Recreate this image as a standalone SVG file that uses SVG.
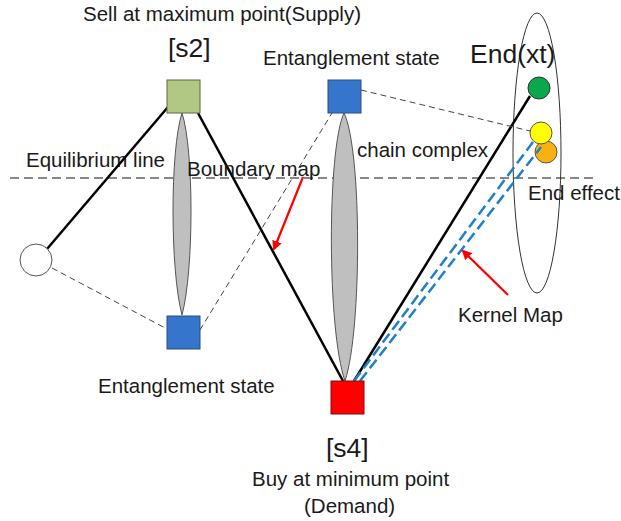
<svg xmlns="http://www.w3.org/2000/svg" width="621" height="521" viewBox="0 0 621 521">
<defs>
<style>
text{font-family:"Liberation Sans",Arial,sans-serif;font-size:20.5px;fill:#1a1a1a}
.big{font-size:26.5px}
.solid{stroke:#000;stroke-width:2.5;fill:none}
.thin{stroke:#444;stroke-width:1;stroke-dasharray:6 4;fill:none}
.kern{stroke:#1f7fc8;stroke-width:2.5;stroke-dasharray:11 5;fill:none}
.red{stroke:#f00;stroke-width:2.2;fill:none}
.spindle{fill:#bfbfbf;stroke:#555;stroke-width:1}
</style>
<marker id="ah" markerWidth="10" markerHeight="10" refX="8" refY="5" orient="auto" markerUnits="userSpaceOnUse">
<path d="M0,0 L10,5 L0,10 Z" fill="#f00"/>
</marker>
</defs>
<rect width="621" height="521" fill="#fff"/>

<g id="equilibrium">
<line x1="10" y1="178" x2="594" y2="178" stroke="#111" stroke-width="1.2" stroke-dasharray="9 5"/>
<text x="26" y="167">Equilibrium line</text>
</g>

<g id="spindle-s2"><path class="spindle" d="M182,113 C194,150 194,270 182,315 C170,270 170,150 182,113 Z"/></g>
<g id="spindle-chain"><path class="spindle" d="M344,113 C362,150 362,330 345,381 C327,330 327,150 344,113 Z"/></g>

<g id="end-set">
<ellipse cx="537" cy="153" rx="24" ry="140" fill="none" stroke="#333" stroke-width="1"/>
<circle cx="546" cy="152" r="11" fill="#f7b20f" stroke="#555" stroke-width="1"/>
<circle cx="541" cy="133" r="11" fill="#ffff00" stroke="#555" stroke-width="1"/>
<circle cx="539" cy="88" r="11" fill="#0aa84c" stroke="#333" stroke-width="1"/>
<text class="big" x="470" y="63">End(xt)</text>
<text x="528" y="200">End effect</text>
</g>

<g id="connectors">
<line class="solid" x1="47" y1="249" x2="168" y2="107"/>
<line class="solid" x1="198" y1="113" x2="343" y2="381"/>
<line class="solid" x1="354" y1="381" x2="530" y2="96"/>
<line class="thin" x1="52" y1="268" x2="167" y2="329"/>
<line class="thin" x1="200" y1="330" x2="332" y2="113"/>
<line class="thin" x1="361" y1="90" x2="530" y2="131"/>
<line class="kern" x1="354" y1="381" x2="533" y2="142"/>
<line class="kern" x1="360" y1="381" x2="541" y2="147"/>
<line class="red" x1="303" y1="177" x2="274" y2="249" marker-end="url(#ah)"/>
<line class="red" x1="508" y1="295" x2="463" y2="251" marker-end="url(#ah)"/>
</g>

<g id="s1"><circle cx="36" cy="260" r="16" fill="#fff" stroke="#555" stroke-width="1"/></g>

<g id="s2">
<rect x="167" y="80" width="33" height="33" fill="#b1c784" stroke="#5b6b45" stroke-width="1"/>
<text x="83" y="21">Sell at maximum point(Supply)</text>
<text class="big" x="168" y="57">[s2]</text>
</g>

<g id="ent-top">
<rect x="328" y="80" width="33" height="33" fill="#3575cc" stroke="#2b4f7e" stroke-width="1"/>
<text x="263" y="65">Entanglement state</text>
</g>

<g id="ent-bottom">
<rect x="167" y="316" width="33" height="33" fill="#3575cc" stroke="#2b4f7e" stroke-width="1"/>
<text x="98" y="393">Entanglement state</text>
</g>

<g id="s4">
<rect x="331" y="381" width="33" height="33" fill="#ff0000" stroke="#7a1010" stroke-width="1"/>
<text class="big" x="326" y="457">[s4]</text>
<text x="252" y="486">Buy at minimum point</text>
<text x="304" y="513">(Demand)</text>
</g>

<g id="labels">
<text x="187" y="176">Boundary map</text>
<text x="357" y="157">chain complex</text>
<text x="458" y="322">Kernel Map</text>
</g>
</svg>
